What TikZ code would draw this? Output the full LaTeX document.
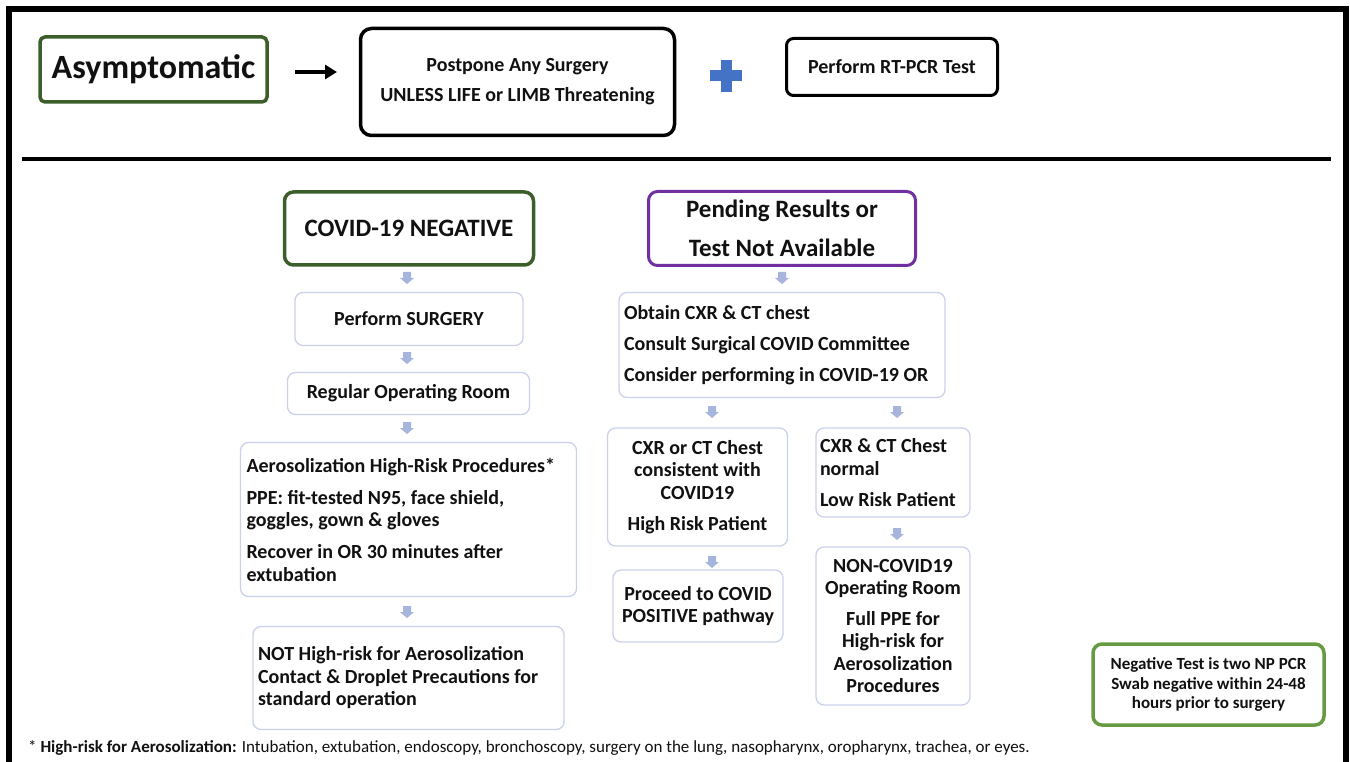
\documentclass[tikz,border=0pt]{standalone}
\usepackage{fontspec}
\setmainfont{Carlito}
\usetikzlibrary{arrows.meta}
\definecolor{dkgreen}{HTML}{3B5E2B}
\definecolor{ltgreen}{HTML}{679B42}
\definecolor{purp}{HTML}{7030A0}
\definecolor{lav}{HTML}{CBD1EC}
\definecolor{arrcol}{HTML}{A7B4DB}
\definecolor{plusblue}{HTML}{4472C4}
\definecolor{ink}{HTML}{111111}
\newcommand\blockarrow[1]{\fill[arrcol] #1 ++(-4,-6) -- ++(8,0) -- ++(0,6) -- ++(3,0) -- ++(-7,6) -- ++(-7,-6) -- ++(3,0) -- cycle;}
\begin{document}
\begin{tikzpicture}[x=1pt,y=-1pt,
  txt/.style={font=\bfseries\fontsize{20}{22.5}\selectfont, text=ink},
  lbox/.style={draw=lav, line width=1.3pt, rounded corners=8pt, inner sep=0pt, txt},
  hbox/.style={draw, line width=3.5pt, rounded corners=6pt, inner sep=0pt, text=ink}]
\useasboundingbox (0,0) rectangle (1350,762);
\fill[white] (0,0) rectangle (1350,762);
\draw[line width=6pt] (9,780) -- (9,9) -- (1346,9) -- (1346,780);
\draw[line width=4pt] (22,159) -- (1331,159);

% top row
\node[hbox, draw=dkgreen, rounded corners=5pt, minimum width=227pt, minimum height=65pt,
      font=\bfseries\fontsize{34}{40}\selectfont] (asym) at (153.5,69.5) {Asymptomatic};
\node[hbox, draw=black, rounded corners=11pt, minimum width=314pt, minimum height=107pt,
      align=center, font=\bfseries\fontsize{20}{30}\selectfont] (post) at (517.5,82) {Postpone Any Surgery\\UNLESS LIFE or LIMB Threatening};
\node[hbox, draw=black, line width=3pt, rounded corners=7pt, minimum width=211pt, minimum height=57pt,
      font=\bfseries\fontsize{20}{24}\selectfont] (rt) at (892,67) {Perform RT-PCR Test};
\coordinate (arS) at (295,72);
\coordinate (arE) at (337,72);
\draw[line width=4pt, -{Triangle[length=12pt,width=14pt]}] (arS) -- (arE);
\fill[plusblue] (710,70.5) rectangle (742,81.5);
\fill[plusblue] (720.5,60) rectangle (731.5,92);

% left column
\node[hbox, draw=dkgreen, line width=3.5pt, rounded corners=9pt, minimum width=249pt, minimum height=73pt,
      font=\bfseries\fontsize{25}{30}\selectfont] (neg) at (409,228.5) {COVID-19 NEGATIVE};
\node[lbox, minimum width=228pt, minimum height=53pt] (surg) at (409,319) {Perform SURGERY};
\node[lbox, minimum width=242pt, minimum height=42pt] (reg) at (408.5,393.5) {Regular Operating Room};
\node[lbox, minimum width=336pt, minimum height=154pt, text width=324pt, align=flush left, inner xsep=6pt] (aero) at (408.5,519.5)
  {Aerosolization High-Risk Procedures*\\[9.5pt]PPE: fit-tested N95, face shield,\\goggles, gown \& gloves\\[9.5pt]Recover in OR 30 minutes after\\extubation};
\node[lbox, minimum width=311pt, minimum height=103pt, text width=301pt, align=flush left, inner xsep=5pt] (notr) at (408.5,678)
  {NOT High-risk for Aerosolization\\Contact \& Droplet Precautions for\\standard operation};

% middle / right columns
\node[hbox, draw=purp, line width=3pt, rounded corners=9pt, minimum width=267pt, minimum height=74pt, align=center,
      font=\bfseries\fontsize{25}{39}\selectfont] (pend) at (782,228.5) {Pending Results or\\Test Not Available};
\node[lbox, minimum width=326pt, minimum height=105pt, text width=316pt, align=flush left, inner xsep=5pt] (obt) at (782,345)
  {Obtain CXR \& CT chest\\[8.5pt]Consult Surgical COVID Committee\\[8.5pt]Consider performing in COVID-19 OR};
\node[lbox, minimum width=180pt, minimum height=118pt, align=center] (cxr1) at (697.5,487)
  {CXR or CT Chest\\consistent with\\COVID19\\[8.5pt]High Risk Patient};
\node[lbox, minimum width=154pt, minimum height=89pt, text width=146pt, align=flush left, inner xsep=4pt] (cxr2) at (893,472.5)
  {CXR \& CT Chest\\normal\\[8.5pt]Low Risk Patient};
\node[lbox, minimum width=170pt, minimum height=72pt, align=center] (proc) at (698,606)
  {Proceed to COVID\\POSITIVE pathway};
\node[lbox, minimum width=154pt, minimum height=158pt, align=center] (noncov) at (893,626)
  {NON-COVID19\\Operating Room\\[8pt]Full PPE for\\High-risk for\\Aerosolization\\Procedures};

\node[hbox, draw=ltgreen, line width=3.5pt, rounded corners=9pt, minimum width=231pt, minimum height=81pt, align=center,
      font=\bfseries\fontsize{17}{19.5}\selectfont] (negt) at (1208.5,684.5)
  {Negative Test is two NP PCR\\Swab negative within 24-48\\hours prior to surgery};

% block arrows
\blockarrow{(407,278)}
\blockarrow{(407,358)}
\blockarrow{(407,428)}
\blockarrow{(407,612)}
\blockarrow{(782,278)}
\blockarrow{(712,412)}
\blockarrow{(897,412)}
\blockarrow{(712,562)}
\blockarrow{(897,534)}

\node[anchor=base west, text=ink, inner sep=0pt, font=\fontsize{17}{20}\selectfont] (fn) at (28,752)
  {* \textbf{High-risk for Aerosolization:} Intubation, extubation, endoscopy, bronchoscopy, surgery on the lung, nasopharynx, oropharynx, trachea, or eyes.};
\end{tikzpicture}
\end{document}
